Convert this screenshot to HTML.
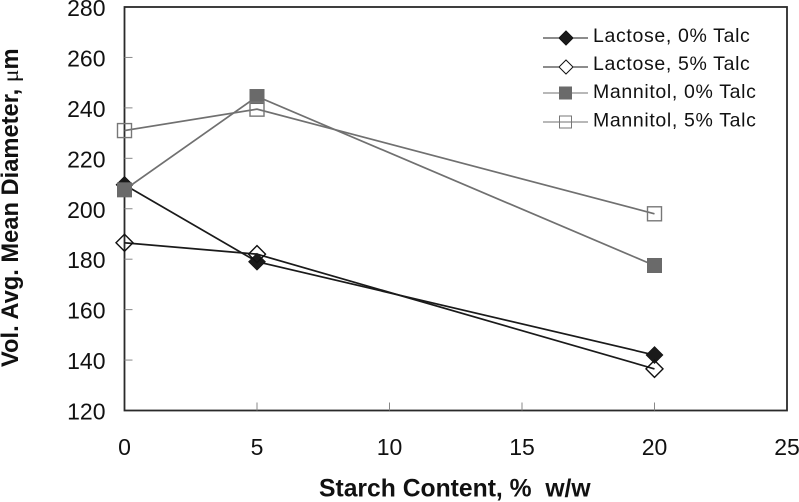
<!DOCTYPE html>
<html>
<head>
<meta charset="utf-8">
<style>
html,body{margin:0;padding:0;background:#fff;width:799px;height:502px;overflow:hidden}
svg{display:block}
text{font-family:"Liberation Sans",sans-serif;fill:#111;white-space:pre}
</style>
</head>
<body>
<svg id="chart" width="799" height="502" viewBox="0 0 799 502" xmlns="http://www.w3.org/2000/svg"></svg>
<script>
const categories = [0, 5, 20];
const xTicks = [0, 5, 10, 15, 20, 25];
const yTicks = [120, 140, 160, 180, 200, 220, 240, 260, 280];
const lactose0 = [209.5, 179, 142];
const lactose5 = [186.5, 182, 136.5];
const mannitol0 = [207.5, 244.5, 177.5];
const mannitol5 = [231, 239.5, 198];
const seriesNames = ["Lactose, 0% Talc", "Lactose, 5% Talc", "Mannitol, 0% Talc", "Mannitol, 5% Talc"];

const NS = "http://www.w3.org/2000/svg";
const svg = document.getElementById("chart");
const L = 124.5, R = 787, T = 7, B = 410.5;
const fx = v => L + (v - 0) / 25 * (R - L);
const fy = v => B - (v - 120) / 160 * (B - T);

function mk(tag, attrs, parent) {
  const e = document.createElementNS(NS, tag);
  for (const k in attrs) e.setAttribute(k, attrs[k]);
  (parent || svg).appendChild(e);
  return e;
}

const frame = mk("rect", {x: L, y: T, width: R - L, height: B - T, fill: "none", stroke: "#2a2a2a", "stroke-width": 1.8});



yTicks.forEach(t => {
  const y = fy(t);
  if (t !== 120 && t !== 280) {
    const tick = mk("line", {x1: L, x2: L + 8, y1: y, y2: y, stroke: "#888", "stroke-width": 1});
    
    
  }
  const lab = mk("text", {x: 105.5, y: y + 9, "text-anchor": "end", "font-size": 23});
  lab.textContent = t;
  
  
});

xTicks.forEach(t => {
  const x = fx(t);
  if (t !== 0 && t !== 25) {
    const tick = mk("line", {x1: x, x2: x, y1: B - 8, y2: B, stroke: "#888", "stroke-width": 1});
    
    
  }
  const lab = mk("text", {x: x, y: 455, "text-anchor": "middle", "font-size": 23});
  lab.textContent = t;
  
  
});

function marker(kind, x, y, parent) {
  if (kind === 0) return mk("polygon", {points: [x, y - 8.5, x + 8.5, y, x, y + 8.5, x - 8.5, y].join(" "), fill: "#1a1a1a", stroke: "#111", "stroke-width": 0.6}, parent);
  if (kind === 1) return mk("polygon", {points: [x, y - 8.5, x + 8.5, y, x, y + 8.5, x - 8.5, y].join(" "), fill: "none", stroke: "#111", "stroke-width": 1.4}, parent);
  if (kind === 2) return mk("rect", {x: x - 7.5, y: y - 7.5, width: 15, height: 15, fill: "#6a6a6a"}, parent);
  return mk("rect", {x: x - 7, y: y - 7, width: 14, height: 14, fill: "none", stroke: "#777", "stroke-width": 1.4}, parent);
}

const seriesValues = [lactose0, lactose5, mannitol0, mannitol5];
const seriesColors = ["#1a1a1a", "#1a1a1a", "#707070", "#707070"];
const seriesKeys = ["lactose-0-talc", "lactose-5-talc", "mannitol-0-talc", "mannitol-5-talc"];

seriesValues.forEach((vals, i) => {
  const g = mk("g", {});
  
  
  const line = mk("polyline", {
    points: vals.map((v, j) => fx(categories[j]) + "," + fy(v)).join(" "),
    fill: "none", stroke: seriesColors[i], "stroke-width": 1.7
  }, g);
  
  
  vals.forEach((v, j) => {
    const m = marker(i, fx(categories[j]), fy(v), g);
    
    
  });
});

const legend = mk("g", {});


const legendLineY = [38, 67, 93, 122];
const legendTextY = [42, 70, 98, 126.5];
seriesNames.forEach((name, i) => {
  const g = mk("g", {}, legend);
  
  
  mk("line", {x1: 543, x2: 588, y1: legendLineY[i], y2: legendLineY[i], stroke: seriesColors[i], "stroke-width": 1.1}, g);
  const kindMarker = i < 2
    ? mk("polygon", {
        points: [566, legendLineY[i] - 7, 573, legendLineY[i], 566, legendLineY[i] + 7, 559, legendLineY[i]].join(" "),
        fill: i === 0 ? "#1a1a1a" : "#fff", stroke: "#111", "stroke-width": 1
      }, g)
    : mk("rect", {
        x: 559.5, y: legendLineY[i] - 6, width: 12, height: 12,
        fill: i === 2 ? "#6a6a6a" : "none", stroke: i === 2 ? "#6a6a6a" : "#777", "stroke-width": 1
      }, g);
  
  
  const t = mk("text", {x: 593, y: legendTextY[i], "font-size": 19.5, "letter-spacing": 0.65}, g);
  t.textContent = name;
  
  
});

const xTitle = mk("text", {x: 319, y: 496.5, "font-size": 24.7, "font-weight": "bold"});
xTitle.textContent = "Starch Content, %  w/w";



const yTitle = mk("text", {x: 0, y: 0, transform: "translate(18 367) rotate(-90)", "font-size": 23.7, "font-weight": "bold"});
yTitle.textContent = "Vol. Avg. Mean Diameter, ";


const mu = mk("tspan", {"font-family": "Liberation Serif, serif", "font-weight": "normal"}, yTitle);
mu.textContent = "\u03bc";
const m2 = mk("tspan", {}, yTitle);
m2.textContent = "m";
</script>
</body>
</html>
